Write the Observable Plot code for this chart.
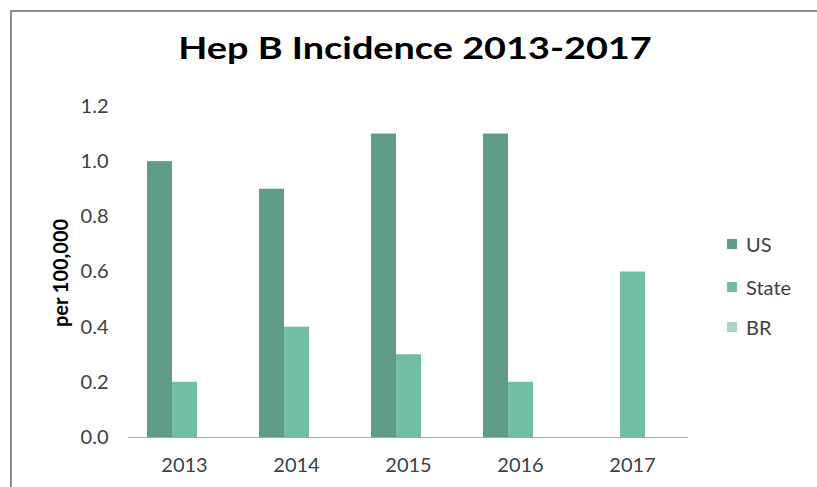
<!DOCTYPE html>
<html>
<head>
<meta charset="utf-8">
<script src="https://cdn.jsdelivr.net/npm/d3@7"></script>
<script src="https://cdn.jsdelivr.net/npm/@observablehq/plot@0.6"></script>
<style>
  html, body { margin: 0; padding: 0; background: #fff; }
  #wrap { position: relative; width: 817px; height: 487px; overflow: hidden; font-family: Lato, "Open Sans", sans-serif; color: #404040; }
  #frame { position: absolute; left: 10px; top: 10px; width: 830px; height: 500px; border-top: 2px solid #8c8c8c; border-left: 2px solid #8c8c8c; }
  #title { position: absolute; left: 415px; top: 32px; line-height: 30px; transform: translateX(-50%) scaleX(1.22); transform-origin: center; text-align: center; font-size: 31px; font-weight: bold; color: #000; white-space: nowrap; }
  #ylabel { position: absolute; left: 60px; top: 273px; transform: translate(-50%, -50%) rotate(-90deg); font-size: 20px; font-weight: bold; color: #000; white-space: nowrap; }
  #legend { position: absolute; left: 727px; top: 0; }
  .li { position: absolute; left: 0; white-space: nowrap; font-size: 20px; color: #404040; display: flex; align-items: center; transform: translateY(-50%); }
  .sw { width: 10px; height: 10px; margin-right: 9px; display: inline-block; }
  #chart { position: absolute; left: 0; top: 0; }
</style>
</head>
<body>
<div id="wrap">
  <div id="frame"></div>
  <div id="chart"></div>
  <div id="title"></div>
  <div id="ylabel"></div>
  <div id="legend"></div>
</div>
<script>
const titleText = "Hep B Incidence 2013-2017";
const yLabel = "per 100,000";
const years = ["2013", "2014", "2015", "2016", "2017"];
const seriesNames = ["US", "State", "BR"];
const usValues = [1.0, 0.9, 1.1, 1.1, null];
const stateValues = [0.2, 0.4, 0.3, 0.2, 0.6];
const brValues = [null, null, null, null, null];
const yTicks = [0, 0.2, 0.4, 0.6, 0.8, 1.0, 1.2];
const colors = ["#5f9b88", "#74bda5", "#aad4c6"];

const seriesValues = [usValues, stateValues, brValues];
const data = [];
years.forEach((yr, i) => {
  seriesNames.forEach((s, j) => {
    data.push({year: yr, series: s, value: seriesValues[j][i]});
  });
});

const plot = Plot.plot({
  width: 817,
  height: 487,
  marginLeft: 128,
  marginRight: 129,
  marginTop: 106,
  marginBottom: 50,
  style: {fontFamily: "Lato, 'Open Sans', sans-serif", fontSize: "20px", color: "#404040", background: "transparent"},
  fx: {domain: years, padding: 0, axis: "bottom", tickSize: 0, tickPadding: 20, label: null},
  x: {domain: seriesNames, paddingInner: 0, paddingOuter: 0.68, axis: null},
  y: {domain: [0, 1.2], ticks: yTicks, tickFormat: d3.format(".1f"), tickSize: 0, tickPadding: 20, label: null},
  color: {domain: seriesNames, range: colors},
  marks: [
    Plot.barY(data.filter(d => d.value != null), {fx: "year", x: "series", y: "value", fill: "series", inset: 0}),
    Plot.ruleY([0], {stroke: "#a6a6a6", strokeWidth: 1.2})
  ]
});
document.getElementById("chart").appendChild(plot);

document.getElementById("title").textContent = titleText;
document.getElementById("ylabel").textContent = yLabel;

const legendY = [244, 287, 327];
const legend = document.getElementById("legend");
seriesNames.forEach((s, i) => {
  const row = document.createElement("div");
  row.className = "li";
  row.style.top = legendY[i] + "px";
  const sw = document.createElement("span");
  sw.className = "sw";
  sw.style.background = colors[i];
  row.appendChild(sw);
  row.appendChild(document.createTextNode(s));
  legend.appendChild(row);
});
</script>
</body>
</html>
